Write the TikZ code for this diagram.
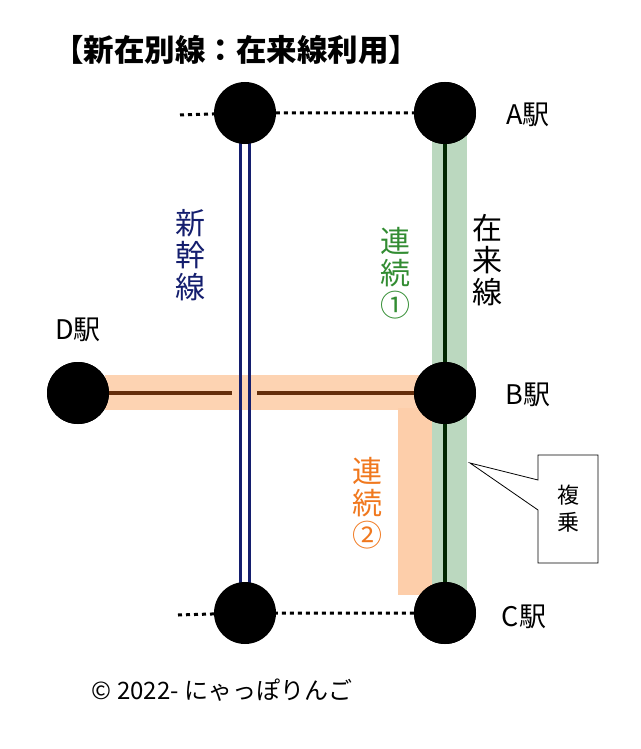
\documentclass[tikz,border=0pt]{standalone}
\usepackage{fontspec}
\setmainfont{Noto Sans CJK JP}
\usepackage{xcolor}
\definecolor{bandgreen}{RGB}{187,216,191}
\definecolor{bandorange}{RGB}{253,206,170}
\definecolor{navyline}{RGB}{20,30,110}
\definecolor{brownline}{RGB}{100,45,10}
\definecolor{txtgreen}{RGB}{50,140,50}
\definecolor{txtorange}{RGB}{240,120,30}
\tikzset{
  station/.style={circle,fill=black,minimum size=62pt,inner sep=0pt},
  vlabel/.style={align=center,font=\fontsize{30}{32}\selectfont,inner sep=0pt},
  slabel/.style={font=\fontsize{27}{30}\selectfont},
  dots/.style={line width=3pt,dash pattern=on 4pt off 4pt}
}
\begin{document}
\begin{tikzpicture}[x=1pt,y=-1pt]
  \useasboundingbox (0,0) rectangle (640,749);
  % bands
  \fill[bandgreen] (432,135) rectangle (467,595);
  \fill[bandorange] (398,408) rectangle (432,595);
  \fill[bandorange, opacity=0.9] (105,375) rectangle (432,410);
  % stations
  \coordinate (ul) at (245,113);
  \coordinate (ll) at (245,613);
  \node[station] (a) at (445,113) {};
  \node[station] (b) at (445,393) {};
  \node[station] (c) at (445,613) {};
  \node[station] (d) at (78,393) {};
  \coordinate (lineL) at (180,115);
  \coordinate (lineL2) at (178,615);
  % dotted lines
  \draw[dots] (lineL) -- (ul) -- (a);
  \draw[dots] (lineL2) -- (ll) -- (c);
  % lines
  \draw[black!85!green,line width=4pt] (a) -- (c);
  \draw[brownline,line width=4pt] (d) -- (232,393);
  \draw[brownline,line width=4pt] (257,393) -- (b);
  \draw[navyline,line width=3pt] (240.5,113) -- (240.5,613);
  \draw[navyline,line width=3pt] (249.5,113) -- (249.5,613);
  \node[station] (ulst) at (ul) {};
  \node[station] (llst) at (ll) {};
  \node[station] at (a) {};
  \node[station] at (b) {};
  \node[station] at (c) {};
  \node[station] at (d) {};
  % labels
  \node[slabel] (al) at (528,115) {A駅};
  \node[slabel] (bl) at (528,395) {B駅};
  \node[slabel] (cl) at (524,617) {C駅};
  \node[slabel] (dl) at (78,330) {D駅};
  \node[vlabel,navyline] (shin) at (190,255) {新\\幹\\線};
  \node[vlabel,txtgreen] (ren1) at (395,273) {連\\続\\①};
  \node[vlabel] (zai) at (487,260) {在\\来\\線};
  \node[vlabel,txtorange] (ren2) at (367,503) {連\\続\\②};
  % callout
  \coordinate (tip) at (470,463);
  \draw[fill=white,line width=0.8pt] (538,455) -- (598,455) -- (598,563) -- (538,563) -- (538,510) -- (tip) -- (538,480) -- cycle;
  \node[align=center,font=\fontsize{22}{27}\selectfont] (fuku) at (568,509) {複\\乗};
  \node[font=\bfseries\fontsize{30.5}{34}\selectfont] (title) at (236,50) {【新在別線：在来線利用】};
  \node[font=\fontsize{24}{28}\selectfont] (copy) at (222,690) {© 2022- にゃっぽりんご};
\end{tikzpicture}
\end{document}
